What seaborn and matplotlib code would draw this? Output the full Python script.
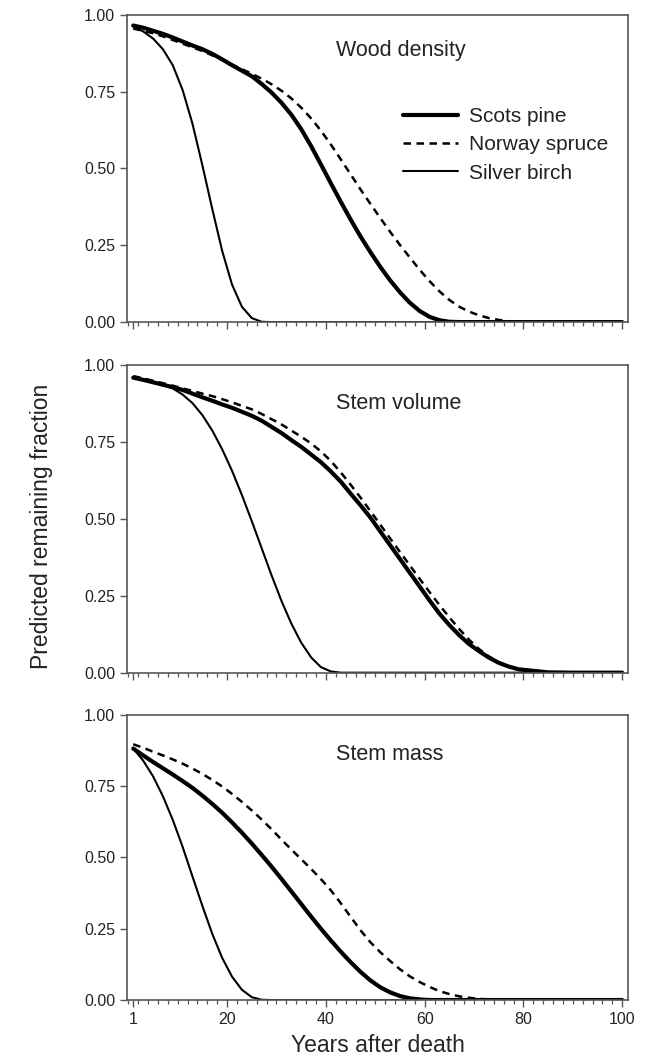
import pandas as pd
import matplotlib
matplotlib.use('Agg')
import matplotlib.pyplot as plt
from matplotlib.ticker import MultipleLocator
import seaborn as sns

# years after death (shared x values for every curve)
years = [1, 3, 5, 7, 9, 11, 13, 15, 17, 19, 21, 23, 25, 27, 29, 31, 33, 35, 37, 39,
         41, 43, 45, 47, 49, 51, 53, 55, 57, 59, 61, 63, 65, 67, 69, 71, 73, 75, 77, 79,
         85, 90, 95, 100]

species = ['Scots pine', 'Norway spruce', 'Silver birch']
panel_titles = ['Wood density', 'Stem volume', 'Stem mass']

# Wood density
density_pine = [0.965, 0.958, 0.948, 0.938, 0.926, 0.913, 0.900, 0.888, 0.873, 0.855,
                0.836, 0.818, 0.800, 0.775, 0.747, 0.714, 0.675, 0.628, 0.573, 0.513,
                0.452, 0.392, 0.334, 0.279, 0.228, 0.180, 0.136, 0.097, 0.063, 0.036,
                0.017, 0.006, 0.001, 0, 0, 0, 0, 0, 0, 0, 0, 0, 0, 0]
density_spruce = [0.955, 0.948, 0.940, 0.930, 0.918, 0.906, 0.894, 0.882, 0.868, 0.853,
                  0.838, 0.823, 0.808, 0.792, 0.774, 0.753, 0.728, 0.698, 0.663, 0.623,
                  0.578, 0.530, 0.481, 0.432, 0.385, 0.339, 0.294, 0.251, 0.210, 0.170,
                  0.133, 0.100, 0.072, 0.050, 0.034, 0.022, 0.013, 0.007, 0.003, 0.001,
                  0, 0, 0, 0]
density_birch = [0.962, 0.946, 0.923, 0.888, 0.836, 0.755, 0.645, 0.510, 0.368, 0.232,
                 0.122, 0.050, 0.013, 0.001, 0, 0, 0, 0, 0, 0,
                 0, 0, 0, 0, 0, 0, 0, 0, 0, 0, 0, 0, 0, 0, 0, 0, 0, 0, 0, 0, 0, 0, 0, 0]

# Stem volume
volume_pine = [0.960, 0.953, 0.945, 0.937, 0.929, 0.920, 0.908, 0.896, 0.885, 0.873,
               0.862, 0.849, 0.836, 0.820, 0.800, 0.780, 0.757, 0.735, 0.710, 0.685,
               0.655, 0.622, 0.583, 0.545, 0.505, 0.460, 0.415, 0.370, 0.325, 0.280,
               0.235, 0.192, 0.155, 0.122, 0.093, 0.070, 0.049, 0.032, 0.020, 0.011,
               0.001, 0, 0, 0]
volume_spruce = [0.965, 0.958, 0.950, 0.942, 0.934, 0.925, 0.917, 0.908, 0.900, 0.890,
                 0.880, 0.868, 0.857, 0.842, 0.825, 0.808, 0.788, 0.768, 0.746, 0.720,
                 0.689, 0.652, 0.612, 0.570, 0.526, 0.482, 0.437, 0.393, 0.349, 0.305,
                 0.262, 0.220, 0.180, 0.142, 0.107, 0.077, 0.053, 0.034, 0.020, 0.011,
                 0.001, 0, 0, 0]
volume_birch = [0.960, 0.954, 0.947, 0.938, 0.925, 0.905, 0.877, 0.838, 0.788, 0.727,
                0.657, 0.578, 0.493, 0.405, 0.317, 0.234, 0.160, 0.098, 0.050, 0.018,
                0.004, 0, 0, 0, 0, 0, 0, 0, 0, 0, 0, 0, 0, 0, 0, 0, 0, 0, 0, 0, 0, 0, 0, 0]

# Stem mass
mass_pine = [0.882, 0.858, 0.835, 0.813, 0.791, 0.768, 0.744, 0.717, 0.688, 0.657,
             0.623, 0.587, 0.549, 0.509, 0.468, 0.425, 0.381, 0.337, 0.293, 0.250,
             0.209, 0.170, 0.133, 0.099, 0.069, 0.045, 0.027, 0.014, 0.006, 0.002,
             0, 0, 0, 0, 0, 0, 0, 0, 0, 0, 0, 0, 0, 0]
mass_spruce = [0.897, 0.885, 0.871, 0.858, 0.844, 0.829, 0.812, 0.793, 0.772, 0.749,
               0.723, 0.695, 0.665, 0.633, 0.599, 0.563, 0.528, 0.494, 0.460, 0.424,
               0.385, 0.340, 0.292, 0.245, 0.203, 0.168, 0.137, 0.108, 0.083, 0.063,
               0.046, 0.031, 0.021, 0.013, 0.008, 0.004, 0.002, 0.001, 0, 0,
               0, 0, 0, 0]
mass_birch = [0.882, 0.840, 0.785, 0.715, 0.632, 0.537, 0.433, 0.330, 0.232, 0.148,
              0.082, 0.036, 0.010, 0.001, 0, 0, 0, 0, 0, 0,
              0, 0, 0, 0, 0, 0, 0, 0, 0, 0, 0, 0, 0, 0, 0, 0, 0, 0, 0, 0, 0, 0, 0, 0]

panels = [
    [density_pine, density_spruce, density_birch],
    [volume_pine, volume_spruce, volume_birch],
    [mass_pine, mass_spruce, mass_birch],
]

# line looks per species
line_kw = {
    'Scots pine': dict(lw=3.0, linestyle='-'),
    'Norway spruce': dict(lw=1.8, linestyle=(0, (3, 2.2))),
    'Silver birch': dict(lw=1.5, linestyle='-'),
}

sns.set_style('ticks')
plt.rcParams['font.family'] = ['Liberation Sans', 'DejaVu Sans']
plt.rcParams['text.color'] = '#222222'

fig = plt.figure(figsize=(6.55, 10.56), dpi=100)

# axes boxes in figure fractions (left, bottom, width, height)
boxes = [
    (0.194, 0.695, 0.765, 0.291),
    (0.194, 0.363, 0.765, 0.291),
    (0.194, 0.053, 0.765, 0.270),
]
title_y = [0.884, 0.875, 0.86]

for i, (box, series) in enumerate(zip(boxes, panels)):
    ax = fig.add_axes(box)
    for name, vals in zip(species, series):
        sns.lineplot(x=years, y=vals, ax=ax, color='black', label=name if i == 0 else None,
                     solid_joinstyle='round', **line_kw[name])

    ax.set_xlim(-0.25, 101.2)
    ax.set_ylim(0, 1)
    ax.set_yticks([0, 0.25, 0.5, 0.75, 1.0])
    ax.set_yticklabels(['0.00', '0.25', '0.50', '0.75', '1.00'])
    ax.set_xticks([1, 20, 40, 60, 80, 100])
    ax.xaxis.set_minor_locator(MultipleLocator(2))
    ax.tick_params(axis='both', which='major', labelsize=11.5, colors='#555555',
                   labelcolor='#222222', length=5, width=1.0, direction='out')
    ax.tick_params(axis='x', which='minor', length=3, width=0.9, colors='#555555',
                   direction='out')
    for sp in ax.spines.values():
        sp.set_visible(True)
        sp.set_color('#555555')
        sp.set_linewidth(1.2)
    if i < 2:
        ax.set_xticklabels([])
        ax.set_xlabel('')
    else:
        ax.set_xlabel('Years after death', fontsize=16.5, labelpad=5)
    ax.set_ylabel('')
    ax.text(0.417, title_y[i], panel_titles[i], transform=ax.transAxes,
            fontsize=15.5, ha='left', va='center')

    if i == 0:
        ax.legend(loc='upper left', bbox_to_anchor=(0.551, 0.70), frameon=False,
                  fontsize=15, handlelength=2.64, handletextpad=0.5,
                  labelspacing=0.45, borderpad=0, borderaxespad=0)
    else:
        leg = ax.get_legend()
        if leg is not None:
            leg.remove()

fig.text(0.063, 1 - 526 / 1056, 'Predicted remaining fraction', rotation=90,
         fontsize=16.5, ha='center', va='center')

fig.savefig('out.png', dpi=100)
